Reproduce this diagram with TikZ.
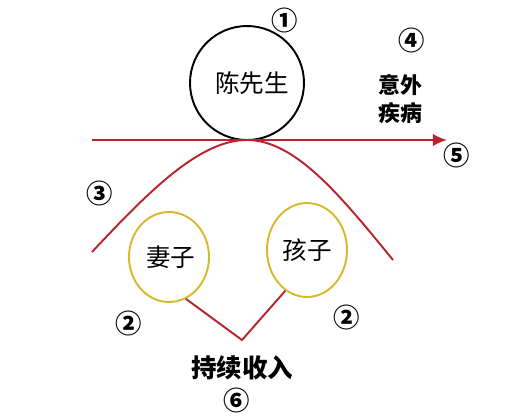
\documentclass[tikz,border=0pt]{standalone}
\usepackage{fontspec}
\newfontfamily\cjk{Noto Sans CJK SC}
\usepackage{tikz}
\usetikzlibrary{arrows.meta,shapes.geometric}
\definecolor{lifered}{RGB}{185,35,45}
\definecolor{ringgold}{RGB}{215,185,45}

\begin{document}
\begin{tikzpicture}[x=0.02cm,y=-0.02cm,
  num/.style={font=\cjk\bfseries\fontsize{15}{15}\selectfont},
  family/.style={draw=ringgold,line width=1.1pt,ellipse,inner sep=0pt,minimum width=1.6cm,minimum height=1.8cm,font=\cjk\fontsize{14}{14}\selectfont},
  redline/.style={draw=lifered,line width=1.1pt},
]
\useasboundingbox (0,0) rectangle (519,419);
\node[circle,draw,line width=1.1pt,inner sep=0pt,minimum size=2.28cm,font=\cjk\fontsize{14}{14}\selectfont] (chen) at (247,83) {\hspace{6pt}陈先生};
\node[family] (wife) at (169,257) {\hspace{2pt}妻子};
\node[family,minimum height=1.88cm] (kid) at (307,250) {孩子};
\coordinate (start) at (92,140);
\coordinate (end) at (447,140);
\coordinate (base) at (242,340);
\draw[redline,-{Latex[length=8pt,width=7pt]}] (start) -- (end);
\draw[redline] (92,252) .. controls (150,190) and (200,140) .. (247,140)
  .. controls (295,140) and (340,195) .. (393,260);
\draw[redline] (wife.-68) -- (base) -- (kid.-118);
\node[num] (n1) at (285,20) {①};
\node[num] (n4) at (412,40) {④};
\node[num] (n5) at (457,155) {⑤};
\node[num] (n3) at (100,193) {③};
\node[num] (n2a) at (129,323) {②};
\node[num] (n2b) at (347,317) {②};
\node[num] (n6) at (237,400) {⑥};
\node[font=\cjk\bfseries\fontsize{12.5}{16}\selectfont,align=center] (risk) at (400,99) {意外\\疾病};
\node[font=\cjk\bfseries\fontsize{14.5}{14}\selectfont] (income) at (242,368) {持续收入};
\end{tikzpicture}
\end{document}
